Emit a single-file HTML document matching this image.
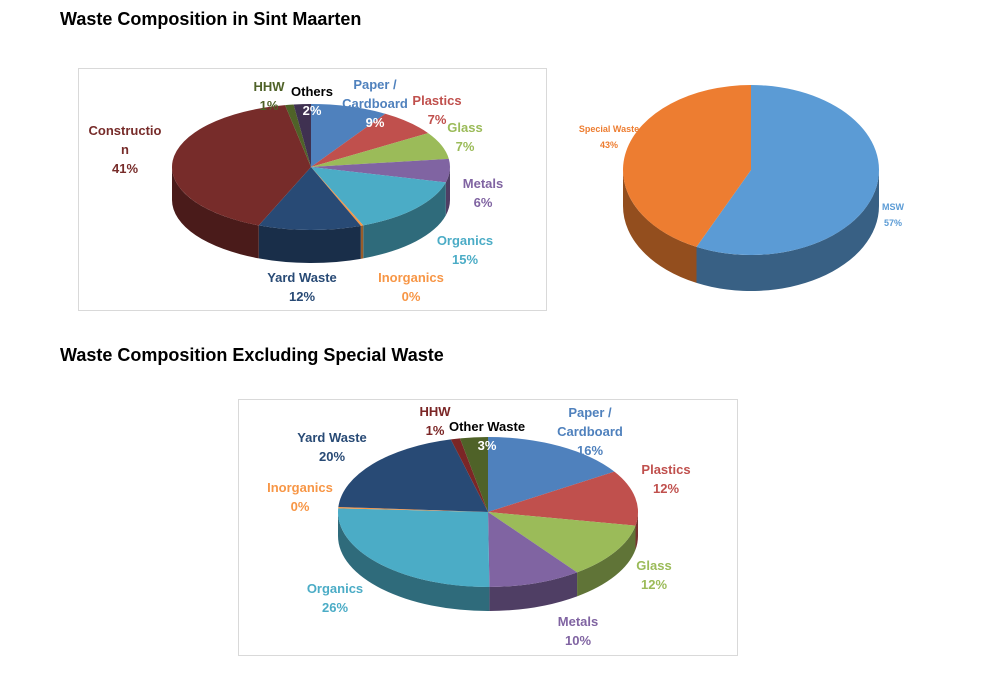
<!DOCTYPE html>
<html><head><meta charset="utf-8"><style>
body{margin:0;background:#fff;width:1000px;height:677px;overflow:hidden;font-family:"Liberation Sans",sans-serif}
svg{position:absolute;left:0;top:0}
</style></head><body>
<svg id="c" width="1000" height="677">
<text x="60" y="25" font-size="18" font-weight="bold" fill="#000">Waste Composition in Sint Maarten</text>
<text x="60" y="361" font-size="18" font-weight="bold" fill="#000">Waste Composition Excluding Special Waste</text>
<rect x="78.5" y="68.5" width="468" height="242" fill="none" stroke="#d9d9d9"/>
<rect x="238.5" y="399.5" width="499" height="256" fill="none" stroke="#d9d9d9"/>
</svg>
<script>
// Chart 1 data
const c1Categories=["Paper / Cardboard","Plastics","Glass","Metals","Organics","Inorganics","Yard Waste","Construction","HHW","Others"];
const c1Values=[9,7,7,6,15,0.3,12,41,1,2];
const c1Colors=["#4f81bd","#c0504d","#9bbb59","#8064a2","#4bacc6","#f79646","#284a75","#772c2a","#4f6228","#3f3151"];
// Chart 2 data
const c2Categories=["MSW","Special Waste"];
const c2Values=[57,43];
const c2Colors=["#5b9bd5","#ed7d31"];
// Chart 3 data
const c3Categories=["Paper / Cardboard","Plastics","Glass","Metals","Organics","Inorganics","Yard Waste","HHW","Other Waste"];
const c3Values=[16,12,12,10,26,0.3,20,1,3];
const c3Colors=["#4f81bd","#c0504d","#9bbb59","#8064a2","#4bacc6","#f79646","#284a75","#7b2626","#4f6228"];

const NS="http://www.w3.org/2000/svg";
const svg=document.getElementById('c');
function shade(hex,f){const n=parseInt(hex.slice(1),16);let r=n>>16,g=(n>>8)&255,b=n&255;return `rgb(${Math.round(r*f)},${Math.round(g*f)},${Math.round(b*f)})`;}
function pie(id,values,colors,cx,cy,rx,ry,depth){
  const g=document.createElementNS(NS,'g');
  
  
  svg.appendChild(g);
  const total=values.reduce((a,b)=>a+b,0);
  const pt=(a,dy)=>[cx+rx*Math.sin(a),cy-ry*Math.cos(a)+dy];
  let acc=0;const slices=[];
  values.forEach((v,i)=>{const a1=acc/total*2*Math.PI;acc+=v;const a2=acc/total*2*Math.PI;slices.push([a1,a2,i]);});
  // sides
  slices.forEach(([a1,a2,i])=>{
    const s=Math.max(a1,Math.PI/2),e=Math.min(a2,Math.PI*1.5);
    if(e<=s)return;
    const p1=pt(s,0),p2=pt(e,0),p3=pt(e,depth),p4=pt(s,depth);
    const p=document.createElementNS(NS,'path');
    p.setAttribute('d',`M${p1}A${rx},${ry} 0 0 1 ${p2}L${p3}A${rx},${ry} 0 0 0 ${p4}Z`);
    p.setAttribute('fill',shade(colors[i],0.62));
    
    
    g.appendChild(p);
  });
  // tops
  slices.forEach(([a1,a2,i])=>{
    const p1=pt(a1,0),p2=pt(a2,0);const large=(a2-a1)>Math.PI?1:0;
    const p=document.createElementNS(NS,'path');
    p.setAttribute('d',`M${cx},${cy}L${p1}A${rx},${ry} 0 ${large} 1 ${p2}Z`);
    p.setAttribute('fill',colors[i]);
    
    
    g.appendChild(p);
  });
}
pie('chart1',c1Values,c1Colors,311,167,139,63,33);
pie('chart2',c2Values,c2Colors,751,170,128,85,36);
pie('chart3',c3Values,c3Colors,488,512,150,75,24);

function fmt(v){return Math.round(v)+'%';}
// labels: [chartValues, index, nameLines, x, y(first line center), color, size]
function label(name,lines,x,y,color,size,lh){
  const t=document.createElementNS(NS,'text');
  t.setAttribute('text-anchor','middle');
  t.setAttribute('font-size',size);
  t.setAttribute('font-weight','bold');
  t.setAttribute('fill',color);
  
  
  lines.forEach((l,k)=>{const ts=document.createElementNS(NS,'tspan');ts.setAttribute('x',x);ts.setAttribute('y',y+5+k*lh);
    if(typeof l==='object'){ts.setAttribute('fill',l.c);ts.textContent=l.t;}else ts.textContent=l;t.appendChild(ts);});
  svg.appendChild(t);
}
const L1=[[["HHW",fmt(c1Values[8])],269,86,"#4f6228"],[["Others",{t:fmt(c1Values[9]),c:"#fff"}],312,91,"#000"],
[["Paper /","Cardboard",{t:fmt(c1Values[0]),c:"#fff"}],375,84,"#4f81bd"],[["Plastics",fmt(c1Values[1])],437,100,"#c0504d"],
[["Glass",fmt(c1Values[2])],465,127,"#9bbb59"],[["Metals",fmt(c1Values[3])],483,183,"#8064a2"],
[["Organics",fmt(c1Values[4])],465,240,"#4bacc6"],[["Inorganics",fmt(c1Values[5])],411,277,"#f79646"],
[["Yard Waste",fmt(c1Values[6])],302,277,"#284a75"],[["Constructio","n",fmt(c1Values[7])],125,130,"#772c2a"]];
L1.forEach((l,i)=>label('chart1-label-'+i,l[0],l[1],l[2],l[3],13,19));
label('chart2-label-special',["Special Waste",fmt(c2Values[1])],609,127,"#ed7d31",9,16);
label('chart2-label-msw',["MSW",fmt(c2Values[0])],893,205,"#5b9bd5",9,16);
const L3=[[["HHW",fmt(c3Values[7])],435,411,"#7b2626"],[["Other Waste",{t:fmt(c3Values[8]),c:"#fff"}],487,426,"#000"],
[["Paper /","Cardboard",fmt(c3Values[0])],590,412,"#4f81bd"],[["Plastics",fmt(c3Values[1])],666,469,"#c0504d"],
[["Glass",fmt(c3Values[2])],654,565,"#9bbb59"],[["Metals",fmt(c3Values[3])],578,621,"#8064a2"],
[["Organics",fmt(c3Values[4])],335,588,"#4bacc6"],[["Inorganics",fmt(c3Values[5])],300,487,"#f79646"],
[["Yard Waste",fmt(c3Values[6])],332,437,"#284a75"]];
L3.forEach((l,i)=>label('chart3-label-'+i,l[0],l[1],l[2],l[3],13,19));
</script>
</body></html>
